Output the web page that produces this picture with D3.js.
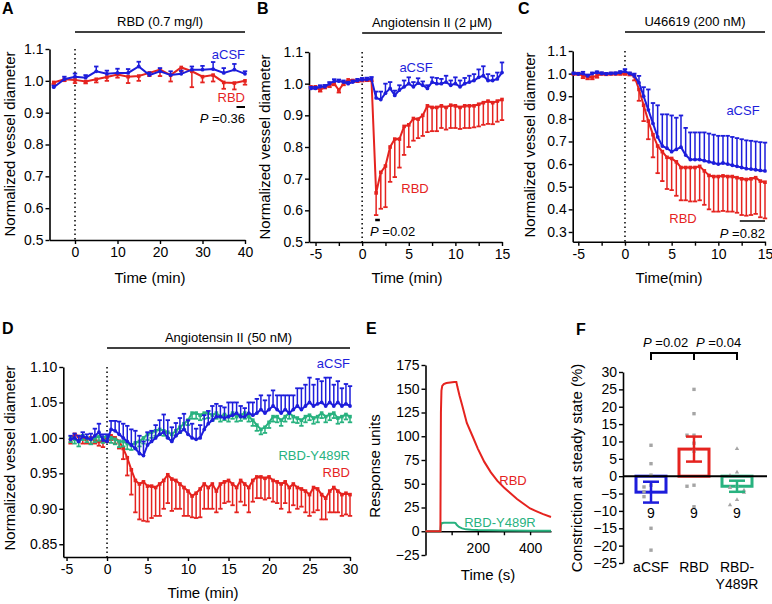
<!DOCTYPE html>
<html>
<head>
<meta charset="utf-8">
<script src="https://cdn.jsdelivr.net/npm/d3@7"></script>
<style>
  body { margin: 0; background: #fff; }
  svg text { font-family: 'Liberation Sans', Arial, Helvetica, sans-serif; }
  svg text.letter { font-weight: bold; }
</style>
</head>
<body>
<svg id="fig" width="772" height="604"></svg>
<script>
// colours used across panels
var BLUE = "#1d1ddb", RED = "#e5231f", GREEN = "#28b27f", GRAY = "#a5a5a5";

// ---- Panel A : RBD (0.7 mg/l), sampled every 2.5 min
var tA = [-5, -2.5, 0, 2.5, 5, 7.5, 10, 12.5, 15, 17.5, 20, 22.5, 25, 27.5, 30, 32.5, 35, 37.5, 40];
var aCsfA = [0.98, 1.005, 1.013, 1.01, 1.03, 1.022, 1.025, 1.025, 1.045, 1.018, 1.03, 1.018, 1.022, 1.035, 1.035, 1.037, 1.025, 1.035, 1.022];
var aCsfErrA = [0.005, 0.008, 0.01, 0.008, 0.015, 0.01, 0.013, 0.012, 0.015, 0.008, 0.01, 0.012, 0.01, 0.01, 0.012, 0.022, 0.015, 0.018, 0.008];
var rbdA = [0.995, 1.005, 1.003, 0.998, 1.005, 1.012, 1.02, 1.013, 1.015, 1.025, 1.035, 1.018, 1.042, 1.03, 1.013, 1.018, 0.995, 0.993, 1.0];
var rbdErrA = [0.005, 0.006, 0.01, 0.006, 0.01, 0.012, 0.01, 0.02, 0.015, 0.01, 0.02, 0.02, 0.012, 0.05, 0.018, 0.02, 0.02, 0.02, 0.012];

// ---- Panel B : Angiotensin II (2 uM), every 0.5 min from -5.5 to 15
var tB = d3.range(-5.5, 15.01, 0.5);
var aCsfB = [0.985, 0.985, 0.99, 0.99, 1.0, 1.008, 1.008, 1.005, 1.0, 1.005,
  1.01, 1.012, 1.013, 1.015, 0.955, 0.95, 0.97, 0.985, 0.963, 0.98,
  0.99, 1.0, 0.99, 1.002, 0.995, 0.985, 1.005, 1.0, 1.0, 1.005,
  0.995, 1.0, 0.99, 1.0, 1.005, 1.01, 1.02, 1.025, 1.01, 1.01,
  1.015, 1.035];
var aCsfErrB = [0.005, 0.005, 0.005, 0.006, 0.005, 0.006, 0.005, 0.005, 0.006, 0.005,
  0.005, 0.006, 0.006, 0.006, 0.02, 0.025, 0.03, 0.02, 0.015, 0.015,
  0.02, 0.02, 0.015, 0.015, 0.012, 0.01, 0.015, 0.018, 0.015, 0.02,
  0.015, 0.02, 0.02, 0.018, 0.02, 0.02, 0.025, 0.03, 0.02, 0.015,
  0.02, 0.032];
var rbdB = [0.99, 0.99, 0.98, 0.99, 0.995, 1.0, 0.98, 1.0, 1.012, 1.01,
  1.01, 1.012, 1.013, 1.013, 0.655, 0.72, 0.74, 0.8, 0.825, 0.825,
  0.865, 0.87, 0.89, 0.888, 0.9, 0.93, 0.925, 0.925, 0.93, 0.925,
  0.932, 0.93, 0.925, 0.93, 0.93, 0.93, 0.935, 0.94, 0.945, 0.94,
  0.945, 0.95];
var rbdErrB = [0.005, 0.006, 0.005, 0.005, 0.006, 0.005, 0.008, 0.005, 0.005, 0.005,
  0.005, 0.005, 0.005, 0.005, 0.07, 0.115, 0.13, 0.11, 0.12, 0.09,
  0.09, 0.07, 0.07, 0.06, 0.065, 0.083, 0.075, 0.075, 0.07, 0.07,
  0.072, 0.07, 0.068, 0.07, 0.07, 0.068, 0.07, 0.07, 0.072, 0.068,
  0.065, 0.065];

// ---- Panel C : U46619 (200 nM), every 0.5 min from -5.5 to 15
var tC = d3.range(-5.5, 15.01, 0.5);
var aCsfC = [1.0, 0.998, 1.0, 0.99, 1.0, 1.005, 1.0, 0.998, 1.0, 1.0,
  1.005, 1.01, 1.0, 0.99, 0.96, 0.9, 0.84, 0.78, 0.72, 0.68,
  0.67, 0.655, 0.665, 0.675, 0.64, 0.62, 0.62, 0.62, 0.615, 0.61,
  0.605, 0.6, 0.605, 0.6, 0.595, 0.59, 0.585, 0.58, 0.578, 0.575,
  0.572, 0.57];
var aCsfErrC = [0.005, 0.005, 0.008, 0.006, 0.005, 0.005, 0.006, 0.005, 0.005, 0.006,
  0.006, 0.01, 0.005, 0.01, 0.03, 0.04, 0.09, 0.09, 0.14, 0.14,
  0.15, 0.16, 0.14, 0.14, 0.12, 0.12, 0.12, 0.12, 0.125, 0.125,
  0.125, 0.125, 0.12, 0.125, 0.125, 0.125, 0.125, 0.125, 0.125, 0.125,
  0.125, 0.125];
var rbdC = [1.0, 1.0, 0.99, 0.985, 0.985, 0.99, 1.0, 0.998, 1.0, 1.0,
  1.0, 1.0, 1.0, 0.99, 0.93, 0.86, 0.79, 0.73, 0.68, 0.655,
  0.63, 0.625, 0.61, 0.585, 0.585, 0.585, 0.585, 0.59, 0.57, 0.55,
  0.545, 0.545, 0.548, 0.545, 0.545, 0.54, 0.535, 0.532, 0.535, 0.54,
  0.525, 0.52];
var rbdErrC = [0.005, 0.005, 0.01, 0.01, 0.01, 0.008, 0.005, 0.005, 0.005, 0.005,
  0.005, 0.005, 0.008, 0.02, 0.05, 0.07, 0.08, 0.1, 0.12, 0.13,
  0.14, 0.14, 0.15, 0.145, 0.145, 0.15, 0.15, 0.15, 0.15, 0.15,
  0.155, 0.155, 0.155, 0.155, 0.155, 0.155, 0.16, 0.16, 0.16, 0.16,
  0.16, 0.16];

// ---- Panel D : Angiotensin II (50 nM), every 0.5 min from -4.5 to 30
var tD = d3.range(-4.5, 30.01, 0.5);
var aCsfD = [0.998, 1.0, 0.995, 1.002, 1.0, 0.998, 1.003, 1.008, 0.997, 0.995,
  1.012, 1.01, 1.005, 1.0, 0.995, 0.99, 0.985, 0.978, 0.975, 0.99,
  0.995, 1.0, 1.005, 1.008, 1.0, 0.995, 1.003, 1.008, 1.012, 1.005,
  1.0, 0.998, 1.0, 1.012, 1.02, 1.025, 1.03, 1.03, 1.028, 1.03,
  1.032, 1.035, 1.03, 1.03, 1.035, 1.032, 1.035, 1.04, 1.035, 1.04,
  1.045, 1.04, 1.035, 1.04, 1.035, 1.04, 1.045, 1.04, 1.045, 1.05,
  1.045, 1.048, 1.05, 1.045, 1.05, 1.045, 1.05, 1.045, 1.048, 1.045];
var aCsfErrD = [0.005, 0.006, 0.008, 0.006, 0.005, 0.008, 0.01, 0.012, 0.008, 0.01,
  0.012, 0.014, 0.018, 0.02, 0.022, 0.022, 0.025, 0.025, 0.02, 0.018,
  0.015, 0.018, 0.02, 0.025, 0.025, 0.02, 0.018, 0.02, 0.022, 0.02,
  0.02, 0.015, 0.018, 0.02, 0.018, 0.02, 0.018, 0.015, 0.015, 0.02,
  0.018, 0.015, 0.015, 0.012, 0.015, 0.018, 0.02, 0.02, 0.018, 0.02,
  0.022, 0.02, 0.025, 0.02, 0.025, 0.02, 0.025, 0.03, 0.03, 0.035,
  0.03, 0.035, 0.03, 0.04, 0.035, 0.03, 0.03, 0.025, 0.028, 0.028];
var y489rD = [1.0, 0.998, 0.995, 1.003, 1.0, 0.998, 1.0, 1.002, 1.0, 1.003,
  1.0, 0.998, 0.995, 0.995, 0.992, 0.99, 0.993, 0.995, 1.0, 1.005,
  1.008, 1.01, 1.012, 1.01, 1.008, 1.005, 1.01, 1.015, 1.02, 1.025,
  1.035, 1.035, 1.032, 1.035, 1.035, 1.032, 1.035, 1.03, 1.033, 1.03,
  1.035, 1.03, 1.032, 1.035, 1.03, 1.025, 1.018, 1.012, 1.015, 1.022,
  1.03, 1.03, 1.025, 1.03, 1.035, 1.03, 1.028, 1.025, 1.03, 1.032,
  1.028, 1.03, 1.035, 1.03, 1.033, 1.035, 1.028, 1.03, 1.033, 1.03];
var y489rErrD = [0.006, 0.006, 0.007, 0.006, 0.006, 0.007, 0.006, 0.006, 0.007, 0.006,
  0.007, 0.007, 0.008, 0.007, 0.008, 0.007, 0.008, 0.007, 0.008, 0.008,
  0.008, 0.007, 0.008, 0.007, 0.008, 0.008, 0.007, 0.008, 0.008, 0.007,
  0.008, 0.008, 0.007, 0.008, 0.007, 0.008, 0.008, 0.007, 0.008, 0.007,
  0.008, 0.007, 0.008, 0.008, 0.007, 0.008, 0.008, 0.007, 0.008, 0.008,
  0.007, 0.008, 0.008, 0.007, 0.008, 0.008, 0.007, 0.008, 0.008, 0.007,
  0.008, 0.008, 0.007, 0.008, 0.008, 0.007, 0.008, 0.008, 0.007, 0.008];
var rbdD = [0.997, 1.005, 1.002, 1.0, 0.998, 1.0, 0.997, 0.995, 0.995, 1.0,
  1.003, 1.0, 0.995, 0.985, 0.972, 0.955, 0.94, 0.935, 0.938, 0.932,
  0.932, 0.93, 0.935, 0.94, 0.948, 0.942, 0.94, 0.935, 0.93, 0.925,
  0.918, 0.922, 0.928, 0.935, 0.93, 0.935, 0.925, 0.935, 0.938, 0.94,
  0.935, 0.93, 0.94, 0.935, 0.93, 0.94, 0.945, 0.945, 0.943, 0.945,
  0.94, 0.938, 0.935, 0.938, 0.93, 0.935, 0.93, 0.928, 0.925, 0.92,
  0.93, 0.928, 0.92, 0.915, 0.925, 0.93, 0.925, 0.92, 0.922, 0.92];
var rbdErrD = [0.005, 0.006, 0.005, 0.008, 0.006, 0.008, 0.005, 0.006, 0.008, 0.006,
  0.006, 0.008, 0.01, 0.015, 0.025, 0.035, 0.045, 0.05, 0.055, 0.05,
  0.045, 0.04, 0.045, 0.04, 0.04, 0.045, 0.04, 0.035, 0.04, 0.035,
  0.03, 0.035, 0.04, 0.035, 0.03, 0.035, 0.03, 0.035, 0.03, 0.03,
  0.03, 0.035, 0.03, 0.03, 0.035, 0.03, 0.03, 0.03, 0.03, 0.03,
  0.03, 0.03, 0.035, 0.03, 0.035, 0.03, 0.03, 0.025, 0.03, 0.03,
  0.035, 0.03, 0.035, 0.03, 0.03, 0.035, 0.03, 0.03, 0.03, 0.03];

// ---- Panel E : binding sensorgram (response units vs time in s)
var tE_rbd = [0, 57, 58, 59, 61, 64, 70, 80, 95, 110, 118, 122, 130, 140, 158, 180, 200, 225, 250, 275, 300, 325, 350, 375, 400, 425, 450, 480];
var ruE_rbd = [0, 0, 70, 125, 148, 153, 155, 156, 156.5, 157, 157, 152, 143, 133, 114, 100, 87, 73, 62, 53, 46, 40, 34, 29, 24, 21, 18, 15];
var tE_mut = [0, 57, 59, 62, 70, 90, 110, 115, 120, 128, 140, 155, 175, 200, 250, 300, 400, 480];
var ruE_mut = [0, 0, 6, 8.5, 9, 9, 9, 8.5, 6.5, 4.5, 3, 2, 1.5, 1.2, 1, 0.8, 0.6, 0.5];

// ---- Panel F : constriction at steady state (%)
var groupsF = ["aCSF", "RBD", "RBD-Y489R"];
var groupLabelsF = [["aCSF"], ["RBD"], ["RBD-", "Y489R"]];
var meanF = [-4.6, 7.8, -2.9];
var semF = [3.0, 3.6, 1.6];
var nF = [9, 9, 9];
var dotsF = [
  [8.9, 3.6, 0.3, -2.6, -3.1, -4.5, -5.9, -15, -21.3],
  [25, 18, 11.8, 11.8, 9.5, 7.2, -2.6, -2.9, -8.8],
  [8, 1.2, 0.3, -2.6, -3.2, -4, -4.6, -6.7, -8.2]
];
var colorsF = [BLUE, RED, GREEN];

var svg = d3.select("#fig");

function txt(x, y, s, size, color, anchor, extra) {
  var t = svg.append("text").attr("x", x).attr("y", y)
    .attr("font-size", size).attr("fill", color || "#000")
    .attr("text-anchor", anchor || "start").text(s);
  if (extra) extra(t);
  return t;
}

function letter(x, y, s) {
  txt(x, y, s, 16, "#000", "start", function (t) { t.attr("class", "letter"); });
}

function styleAxis(g) {
  g.select(".domain").attr("stroke", "#000").attr("stroke-width", 1.6);
  g.selectAll(".tick line").attr("stroke", "#000").attr("stroke-width", 1.4);
  g.selectAll(".tick text").attr("font-size", 14).attr("fill", "#000");
}

function axes(x, y, xTicks, xLabels, yTicks, yFmt) {
  var gx = svg.append("g")
    .attr("transform", "translate(0," + y.range()[0] + ")")
    .call(d3.axisBottom(x).tickValues(xTicks).tickSize(4).tickPadding(3).tickSizeOuter(0)
      .tickFormat(function (d) { return xLabels.indexOf(d) >= 0 ? d : ""; }));
  styleAxis(gx);
  var gy = svg.append("g")
    .attr("transform", "translate(" + x.range()[0] + ",0)")
    .call(d3.axisLeft(y).tickValues(yTicks).tickSize(4).tickPadding(2).tickSizeOuter(0)
      .tickFormat(d3.format(yFmt)));
  styleAxis(gy);
}

// dotted line at t = 0
function zeroLine(x, y) {
  svg.append("line")
    .attr("x1", x(0)).attr("x2", x(0))
    .attr("y1", y.range()[1]).attr("y2", y.range()[0])
    .attr("stroke", "#000").attr("stroke-width", 1.5)
    .attr("stroke-dasharray", "1.5,3");
}

// treatment bar with its title
function treatment(x, t0, t1, yPx, label) {
  svg.append("line").attr("x1", x(t0)).attr("x2", x(t1))
    .attr("y1", yPx).attr("y2", yPx).attr("stroke", "#000").attr("stroke-width", 1.5);
  txt((x(t0) + x(t1)) / 2, yPx - 6, label, 13, "#000", "middle");
}

// mean line + one-sided error bars (dir = +1 up, -1 down)
function series(x, y, t, v, e, color, dir, shape) {
  var g = svg.append("g");
  g.selectAll("line.eb").data(v).enter().append("line")
    .attr("x1", function (d, i) { return x(t[i]); })
    .attr("x2", function (d, i) { return x(t[i]); })
    .attr("y1", function (d) { return y(d); })
    .attr("y2", function (d, i) { return y(d + dir * e[i]); })
    .attr("stroke", color).attr("stroke-width", 1.5);
  g.selectAll("line.cap").data(v).enter().append("line")
    .attr("x1", function (d, i) { return x(t[i]) - 2.2; })
    .attr("x2", function (d, i) { return x(t[i]) + 2.2; })
    .attr("y1", function (d, i) { return y(d + dir * e[i]); })
    .attr("y2", function (d, i) { return y(d + dir * e[i]); })
    .attr("stroke", color).attr("stroke-width", 1.8);
  g.append("path").datum(v)
    .attr("fill", "none").attr("stroke", color).attr("stroke-width", 2)
    .attr("d", d3.line().x(function (d, i) { return x(t[i]); }).y(function (d) { return y(d); }));
  if (shape === "square") {
    g.selectAll("rect.mk").data(v).enter().append("rect")
      .attr("x", function (d, i) { return x(t[i]) - 1.8; })
      .attr("y", function (d) { return y(d) - 1.8; })
      .attr("width", 3.6).attr("height", 3.6).attr("fill", color);
  } else {
    g.selectAll("circle.mk").data(v).enter().append("circle")
      .attr("cx", function (d, i) { return x(t[i]); })
      .attr("cy", function (d) { return y(d); })
      .attr("r", 1.9).attr("fill", color);
  }
}

function ylab(x, y, s) {
  txt(0, 0, s, 15, "#000", "middle", function (t) {
    t.attr("transform", "translate(" + x + "," + y + ") rotate(-90)");
  });
}

function pText(x, y, val, anchor) {
  var t = txt(x, y, "", 13, "#000", anchor);
  t.append("tspan").attr("font-style", "italic").text("P");
  t.append("tspan").text(" =" + val);
}

// ================= Panel A
var xA = d3.scaleLinear().domain([-6, 40]).range([49.5, 245]);
var yA = d3.scaleLinear().domain([0.5, 1.1]).range([240, 49]);
axes(xA, yA, [0, 10, 20, 30, 40], [0, 10, 20, 30, 40], d3.range(0.5, 1.101, 0.1), ".1f");
zeroLine(xA, yA);
treatment(xA, 0, 40, 32, "RBD (0.7 mg/l)");
series(xA, yA, tA, rbdA, rbdErrA, RED, -1, "square");
series(xA, yA, tA, aCsfA, aCsfErrA, BLUE, 1, "circle");
txt(245, 59, "aCSF", 13, BLUE, "end");
txt(245, 102, "RBD", 13, RED, "end");
svg.append("line").attr("x1", xA(38)).attr("x2", xA(40)).attr("y1", 107).attr("y2", 107)
  .attr("stroke", "#000").attr("stroke-width", 2);
pText(245, 123, "0.36", "end");
ylab(15, 144, "Normalized vessel diameter");
txt(150, 283, "Time (min)", 15, "#000", "middle");
letter(2, 14, "A");

// ================= Panel B
var xB = d3.scaleLinear().domain([-5.7, 15]).range([309, 502]);
var yB = d3.scaleLinear().domain([0.5, 1.1]).range([242, 52]);
axes(xB, yB, d3.range(-5, 15.01, 2.5), [-5, 0, 5, 10, 15], d3.range(0.5, 1.101, 0.1), ".1f");
zeroLine(xB, yB);
treatment(xB, 0, 15, 33, "Angiotensin II (2 \u03bcM)");
series(xB, yB, tB, rbdB, rbdErrB, RED, -1, "square");
series(xB, yB, tB, aCsfB, aCsfErrB, BLUE, 1, "circle");
txt(416, 72, "aCSF", 13, BLUE, "middle");
txt(415, 193, "RBD", 13, RED, "middle");
svg.append("line").attr("x1", xB(1.4)).attr("x2", xB(1.9)).attr("y1", 220).attr("y2", 220)
  .attr("stroke", "#000").attr("stroke-width", 2.5);
pText(370, 236, "0.02", "start");
ylab(270, 147, "Normalized vessel diameter");
txt(407, 283, "Time (min)", 15, "#000", "middle");
letter(257, 14, "B");

// ================= Panel C
var xC = d3.scaleLinear().domain([-5.6, 15]).range([572.7, 765]);
var yC = d3.scaleLinear().domain([0.257, 1.1]).range([241.7, 51]);
axes(xC, yC, d3.range(-5, 15.01, 2.5), [-5, 0, 5, 10, 15], d3.range(0.3, 1.101, 0.1), ".1f");
zeroLine(xC, yC);
treatment(xC, 0, 15, 32, "U46619 (200 nM)");
series(xC, yC, tC, rbdC, rbdErrC, RED, -1, "square");
series(xC, yC, tC, aCsfC, aCsfErrC, BLUE, 1, "circle");
txt(743, 115, "aCSF", 13, BLUE, "middle");
txt(683, 223, "RBD", 13, RED, "middle");
svg.append("line").attr("x1", xC(12.3)).attr("x2", xC(15)).attr("y1", 221).attr("y2", 221)
  .attr("stroke", "#000").attr("stroke-width", 1.5);
pText(765, 238, "0.82", "end");
ylab(535, 145, "Normalized vessel diameter");
txt(669, 283, "Time(min)", 15, "#000", "middle");
letter(518, 14, "C");

// ================= Panel D
var xD = d3.scaleLinear().domain([-5.4, 30]).range([63.3, 350]);
var yD = d3.scaleLinear().domain([0.832, 1.1]).range([557, 367]);
axes(xD, yD, d3.range(-5, 30.01, 5), d3.range(-5, 30.01, 5), d3.range(0.85, 1.101, 0.05), ".2f");
zeroLine(xD, yD);
treatment(xD, 0, 30, 348, "Angiotensin II (50 nM)");
series(xD, yD, tD, rbdD, rbdErrD, RED, -1, "square");
series(xD, yD, tD, y489rD, y489rErrD, GREEN, -1, "square");
series(xD, yD, tD, aCsfD, aCsfErrD, BLUE, 1, "circle");
txt(350, 368, "aCSF", 13, BLUE, "end");
txt(350, 460, "RBD-Y489R", 13, GREEN, "end");
txt(350, 477, "RBD", 13, RED, "end");
ylab(15, 458, "Normalized vessel diameter");
txt(203, 598, "Time (min)", 15, "#000", "middle");
letter(2, 334, "D");

// ================= Panel E
var xE = d3.scaleLinear().domain([0, 480]).range([425.5, 551]);
var yE = d3.scaleLinear().domain([-25, 175]).range([555, 365]);
var gEx = svg.append("g").attr("transform", "translate(0," + yE(0) + ")")
  .call(d3.axisBottom(xE).tickValues([100, 200, 300, 400]).tickSize(4).tickPadding(8).tickSizeOuter(0)
    .tickFormat(function (d) { return d % 200 === 0 ? d : ""; }));
styleAxis(gEx);
var gEy = svg.append("g").attr("transform", "translate(" + xE(0) + ",0)")
  .call(d3.axisLeft(yE).tickValues(d3.range(-25, 175.1, 25)).tickSize(4).tickPadding(2).tickSizeOuter(0));
styleAxis(gEy);
var lineE = function (t) {
  return d3.line().x(function (d, i) { return xE(t[i]); }).y(function (d) { return yE(d); });
};
svg.append("path").datum(ruE_mut).attr("fill", "none").attr("stroke", GREEN).attr("stroke-width", 2)
  .attr("d", lineE(tE_mut));
svg.append("path").datum(ruE_rbd).attr("fill", "none").attr("stroke", RED).attr("stroke-width", 2)
  .attr("d", lineE(tE_rbd));
txt(513, 485, "RBD", 13, RED, "middle");
txt(500, 527, "RBD-Y489R", 13, GREEN, "middle");
ylab(380, 466, "Response units");
txt(488, 580, "Time (s)", 15, "#000", "middle");
letter(366, 334, "E");

// ================= Panel F
var xF = d3.scalePoint().domain(groupsF).range([651, 737]);
var yF = d3.scaleLinear().domain([-25, 30]).range([563, 372]);
var gFy = svg.append("g").attr("transform", "translate(623,0)")
  .call(d3.axisLeft(yF).tickValues(d3.range(-25, 30.1, 5)).tickSize(4).tickPadding(2).tickSizeOuter(0));
styleAxis(gFy);
var bw = 30;
groupsF.forEach(function (gname, gi) {
  var cx = xF(gname);
  // bar outline
  svg.append("rect")
    .attr("x", cx - bw / 2).attr("width", bw)
    .attr("y", Math.min(yF(0), yF(meanF[gi])))
    .attr("height", Math.abs(yF(meanF[gi]) - yF(0)))
    .attr("fill", "#fff").attr("stroke", colorsF[gi]).attr("stroke-width", 3);
  // individual points
  var seen = [];
  dotsF[gi].forEach(function (v) {
    var k = seen.filter(function (s) { return Math.abs(s - v) < 1.5; }).length;
    var off = k === 0 ? 0 : (k % 2 ? -7 : 7) * Math.ceil(k / 2);
    seen.push(v);
    if (gi === 2) {
      var px = cx + off, py = yF(v);
      svg.append("path").attr("d", "M" + px + "," + (py - 2.2) + "L" + (px + 2.2) + "," + (py + 1.6) + "L" + (px - 2.2) + "," + (py + 1.6) + "Z")
        .attr("fill", GRAY);
    } else {
      svg.append("rect").attr("x", cx + off - 1.7).attr("y", yF(v) - 1.7)
        .attr("width", 3.4).attr("height", 3.4).attr("fill", GRAY);
    }
  });
  // SEM error bar
  var lo = yF(meanF[gi] - semF[gi]), hi = yF(meanF[gi] + semF[gi]);
  svg.append("line").attr("x1", cx).attr("x2", cx).attr("y1", lo).attr("y2", hi)
    .attr("stroke", colorsF[gi]).attr("stroke-width", 2.5);
  [lo, hi].forEach(function (yy) {
    svg.append("line").attr("x1", cx - 8).attr("x2", cx + 8).attr("y1", yy).attr("y2", yy)
      .attr("stroke", colorsF[gi]).attr("stroke-width", 2.5);
  });
  txt(cx, 518, nF[gi], 14, "#000", "middle");
  groupLabelsF[gi].forEach(function (s, li) {
    txt(cx, 572 + li * 17, s, 14, "#000", "middle");
  });
});
// zero line across the bars
svg.append("line").attr("x1", 623).attr("x2", 767).attr("y1", yF(0)).attr("y2", yF(0))
  .attr("stroke", "#000").attr("stroke-width", 2);
// significance bracket
svg.append("path")
  .attr("d", "M" + xF("aCSF") + ",360V353H" + xF("RBD-Y489R") + "V360M" + xF("RBD") + ",353V360")
  .attr("fill", "none").attr("stroke", "#000").attr("stroke-width", 2);
pText(643, 347, "0.02", "start");
pText(696, 347, "0.04", "start");
ylab(582, 468, "Constriction at steady state (%)");
letter(576, 335, "F");
</script>
</body>
</html>
